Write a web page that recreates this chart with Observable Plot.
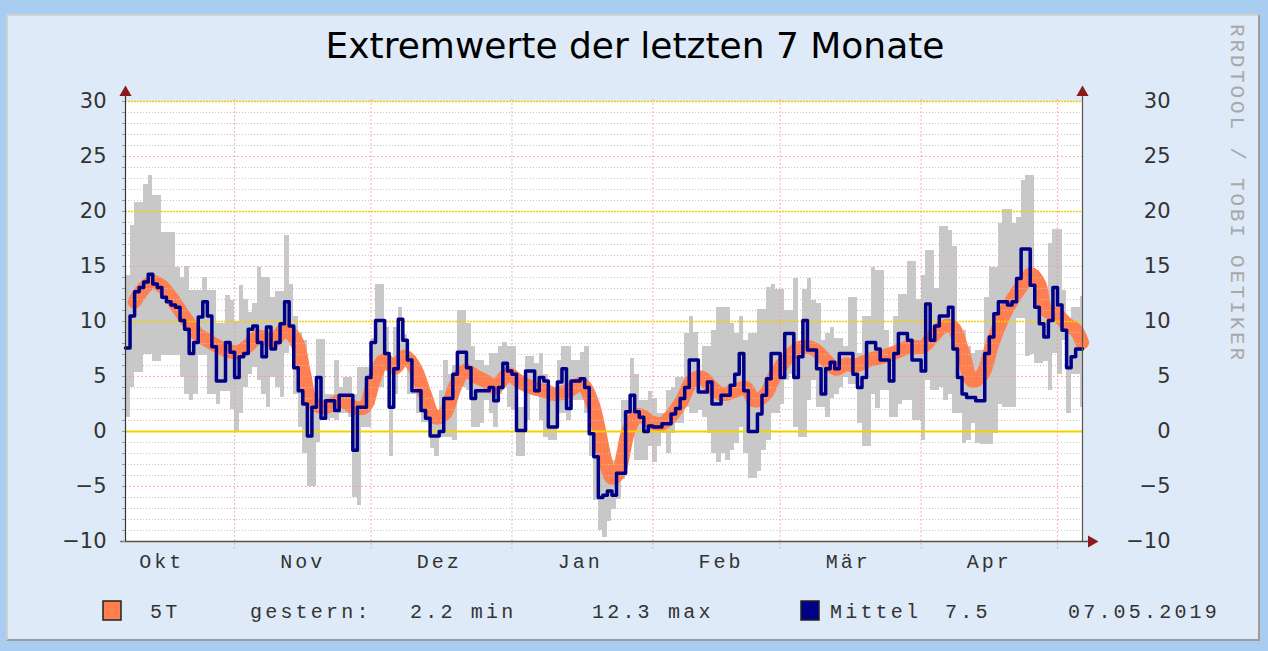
<!DOCTYPE html>
<html><head><meta charset="utf-8">
<script src="https://cdn.jsdelivr.net/npm/d3@7"></script>
<script src="https://cdn.jsdelivr.net/npm/@observablehq/plot@0.6"></script>
<style>
body{margin:0;background:#a9cdf1;}
#wrap{position:relative;width:1268px;height:651px;overflow:hidden;background:#a9cdf1;}
#panel{position:absolute;left:6px;top:14px;width:1254px;height:627px;background:#deeaf7;box-sizing:border-box;border-left:2px solid #d0d0d0;border-top:2px solid #d0d0d0;border-right:2px solid #9c9c9c;border-bottom:2px solid #9c9c9c;}
#chart{position:absolute;left:0;top:0;}
</style></head>
<body><div id="wrap"><div id="panel"></div><div id="chart"></div></div>
<script>
// ---- data (daily values from 2018-10-08) ----
const startDay = "2018-10-08";
const gMin = [1.3,4,5.4,5.4,7,7,6.4,6.4,6.9,6.9,6.9,6.9,4.9,3.4,2.8,3.4,6.9,6.9,3.4,3.4,2.5,3.6,3.6,2,0,1.6,
  4,5.2,5.8,4.6,3.4,2.2,4.9,4,3.1,7.1,7.7,3.4,0.4,-2,-5,-5,-1,1,1,1.2,1,1.6,1.6,1.3,-6,-6.7,
  0.4,0.4,2.4,4,4,5.8,-2.3,3.4,7.1,5.8,3.4,3.4,1.6,0.8,0.8,-1.5,-2.3,-0.5,-0.5,-0.5,-0.8,4,4,3.7,0.4,0.4,0.7,
  2.8,1.6,0.4,3.4,4,2.2,1.9,-2.3,-2.3,1,3.4,3.4,1,-0.5,-0.8,-0.8,1.6,1.6,1,2.8,2.8,2.8,1.6,-2.3,-6.3,-9,
  -9.6,-8.2,-7.1,-6.2,-4.4,-1.7,-0.2,-2.6,-2.6,-2.6,-1.4,-2.8,-1.4,-0.2,-2,-0.2,0.7,0.7,2.2,1.6,1.6,1.9,1.3,-0.2,-2,-2.8,-2,
  -2.6,-1.7,-1.1,0.4,-2,-4.3,-4.3,-3.6,-1.7,-0.8,1.6,1.6,2.5,4.6,5.2,0.4,-0.5,-0.5,2.8,4.6,2.2,2.2,1.3,3,3.4,4,
  4.9,4.3,4.3,0.7,-1.4,-1.4,3.4,2.1,3.7,3.7,1.3,1.3,2.5,2.8,2.8,1,1,-0.8,4.6,3.7,3.7,4,2.8,3.4,1.6,1.6,-1.1,
  -0.8,0.7,-1.1,-1.2,-1.2,-1.2,-0.2,2.5,2.2,2.2,2.2,10.3,10.3,6.8,7,6.2,6.2,6.4,3.7,7.1,5.2,8.3,1.6,5.2,5.2,2.2];
const gMax = [14.2,18.7,20.8,20.8,22.5,23.3,21.5,21.5,18.1,18.1,18.1,14.9,14,15,12.8,12.8,12.8,14,12.8,12.8,9.8,9.8,12.4,11.9,10,13.3,
  12,10.8,11.6,14.9,14,14,12.2,12.7,12.7,17.8,13.4,10.5,9,8.3,4.6,3,8.4,8.4,3.4,3.4,6.5,4,4.9,4.9,3.4,5.8,
  5.8,5.8,8.5,13.4,13.4,9.5,6.5,9.5,11.3,8.8,7,4.6,4.2,3.7,3.7,1.6,1.6,3.7,6.5,5.2,6,11,11,9.8,7.7,6.5,6.5,
  6,7.1,7.1,7.7,8.1,7.7,7.7,2.2,2.2,6.8,6.8,6.2,7.1,5.2,3.7,3.7,6.5,7.7,7.7,6.5,6.5,7.2,7.7,2.8,0.4,-1.1,
  -1.1,-2.6,-2.6,-2,2.8,2.8,6.6,5.2,2.8,2.8,3.6,3,1.6,1.6,3.7,4,4.9,4.9,8.9,10.5,9,5.5,7.7,7.7,9.2,11.3,11.3,
  11.3,9.8,8.9,10.5,8.3,8.9,8.9,11.1,11.1,13.1,13.4,12.9,12.9,11,11,13.9,7.5,12.9,13.9,11.9,11.6,8.3,8.9,9.5,8.5,8.5,
  7.7,12.2,12.2,7.1,10.5,10.5,14.9,14.6,14.6,9.2,7.1,10.5,12.5,12.5,15.5,15.5,12,14.2,16.5,16.5,13,18.6,18.6,18.3,16.8,9.2,9.2,
  7.7,7.1,7.4,7.4,12.2,14.9,14.9,18.9,20.2,20.2,18.9,19.5,22.8,23.3,23.3,14.6,12.5,12.5,17.1,18.4,18.4,12.8,10.1,11.3,11.3,12.3];
const mittel = [7.6,10.5,12.7,13.1,13.6,14.3,13.4,13.1,12.2,11.8,11.5,11.3,10.1,9.3,7.1,8.1,10.4,11.8,10.5,7.7,4.6,4.6,8.1,7.2,4.9,6.8,
  7.1,9.3,9.6,8.1,6.8,9.5,7.5,8.1,9.8,11.8,9.6,5.8,3.7,2.5,-0.4,2.2,4.9,1.2,2.8,2.8,1.9,3.3,3.3,3.3,-1.7,2.2,
  2.2,4.9,8.1,10.1,10.1,7.1,2.2,5.7,10.2,8.3,6.5,3.7,3.7,1.9,1.2,-0.4,-0.4,0,3,3,5.2,7.2,7.2,5.8,3.0,3.7,3.7,
  3.7,4.0,2.8,4.0,6.2,5.5,5.2,0.1,0.1,5.5,5.5,3.7,4.9,4.6,0.4,0.4,4.5,5.7,2.1,4.6,4.6,4.8,4.0,-0.2,-2.3,-6,
  -5.8,-5.4,-5.8,-3.8,-3.8,1.8,3.3,1.8,1.3,0,0.5,0.4,0.4,0.7,0.7,1.6,2.1,3,4,6.5,6.5,3.6,3.6,4.5,2.5,2.5,3.3,
  3.3,4.2,5.2,7.1,3.7,0,0,1.6,3.3,4.8,7.1,7.1,4.9,8.9,8.9,4.9,6.8,10.1,7.4,7.4,5.7,3.4,5.7,6.3,5.7,7.1,
  7.1,7.1,5.2,4,4.9,8.1,8.1,7.5,6.5,6.5,4.6,7.1,8.9,8.9,8.3,6.5,6.5,5.5,11.6,8.3,9.6,10.5,10.5,11.3,7.5,4.9,3.4,
  3.1,3.1,2.8,2.8,7.1,8.6,10.7,11.8,11.8,11.5,11.8,13.9,16.6,16.6,13.3,11.3,9.8,8.6,10.1,13.1,11.5,9.2,5.8,6.8,7.5,7.5];
// smoothed band (day offset, value)
const trendDay = [2,4,6,8,10,12,14,16,18,20,22,24.5,27,29,32.7,34.9,37.5,39.3,40.8,43.7,47.4,50.3,52.5,54.8,56.9,59.2,61.4,63.6,65.8,68,70.2,72.4,74.6,77.5,79.5,81.2,84.2,86.4,89.3,92.2,94.4,97.4,100.3,102.5,104,105.5,107,108.4,109.5,110.6,112.8,115.8,118,120.2,122.4,124.6,126.8,129,131.2,134.1,136.3,138.5,140.8,143,145.2,147.4,149.6,151.8,154,156.2,158.4,160.6,163.5,166.5,169.4,172.4,175.3,177.5,179.7,181.9,184.1,186.3,188.5,190.7,193,195.1,197.4,199.2,201,202.5,204.7,206.9,209.1,210.4];
const trendVal = [11.8,13,13.6,13.2,12.2,11,9.8,8.8,8.3,7.8,7.4,7.2,7.8,8.6,8.3,9.2,8.3,5.2,2.8,2.2,2.8,2.2,2.2,4.9,6.5,5.8,6.8,5.8,3.4,1.3,1.6,4,5.5,4.9,4.5,4.0,5.2,4.6,4.0,3.7,3.4,3.7,4.3,2.8,0.4,-2.6,-4.2,-3.8,-2,0,1.5,0.8,0.7,1.5,2.8,4.6,4.9,4.0,3.4,3.7,4.0,2.8,3.4,5.2,6.5,7.4,7.7,7.4,6.5,5.7,6.1,6.0,6.5,6.8,7.2,7.7,7.7,8.6,9.5,9.5,7.3,4.6,5.2,8,10.4,12,13.4,14.3,13.4,11,10.7,9.8,9.2,8.1];
const yTicks = [-10,-5,0,5,10,15,20,25,30];
const monthLabels = ["Okt","Nov","Dez","Jan","Feb","Mär","Apr"];
const monthLabelDates = ["2018-10-16","2018-11-16","2018-12-16","2019-01-16","2019-02-16","2019-03-16","2019-04-16"];
const monthStarts = ["2018-11-01","2018-12-01","2019-01-01","2019-02-01","2019-03-01","2019-04-01","2019-05-01"];
const legendTexts = ["5T","gestern:","2.2 min","12.3 max","Mittel","7.5","07.05.2019"];

// ---- build ----
const DAY = 864e5;
const t0 = new Date(startDay + "T00:00:00Z").getTime();
const dayDate = d => new Date(t0 + d * DAY);
const tEnd = dayDate(210.5);
const days = mittel.map((m, i) => ({x1: dayDate(i), x2: dayDate(Math.min(i + 1, 210.5)), lo: gMin[i], hi: gMax[i], m}));
const meanPts = days.map(d => ({x: d.x1, y: d.m})).concat([{x: tEnd, y: mittel[mittel.length - 1]}]);
const trend = trendDay.map((d, i) => ({x: dayDate(d), y: trendVal[i]}));
const toDate = s => new Date(s + "T00:00:00Z");
const minor = d3.range(-9, 30).filter(v => v % 5 !== 0);
const t0d = dayDate(0);

const plot = Plot.plot({
  width: 1268, height: 651,
  marginLeft: 125, marginRight: 186, marginTop: 101, marginBottom: 110,
  x: {type: "utc", domain: [t0d, tEnd], axis: null},
  y: {domain: [-10, 30]},
  style: {background: "transparent", overflow: "visible"},
  marks: [
    Plot.frame({fill: "white", stroke: null}),
    Plot.rect(days, {x1: "x1", x2: "x2", y1: "lo", y2: "hi", fill: "#c8c8c8", shapeRendering: "crispEdges"}),
    Plot.line(trend, {x: "x", y: "y", curve: "catmull-rom", stroke: "#ff7f50", strokeWidth: 14}),
    Plot.ruleY(minor, {stroke: "#c6c6c6", strokeDasharray: "1,2"}),
    Plot.ruleY([-5, 5, 15, 25], {stroke: "#f29a9a", strokeDasharray: "1.5,2.5"}),
    Plot.ruleX(monthStarts.map(toDate), {y1: -10.7, y2: 30.35, stroke: "#f29a9a", strokeDasharray: "1.5,2.5"}),
    Plot.ruleY([10, 20, 30], {stroke: "#f2cf00", strokeDasharray: "2,1", strokeWidth: 1.5}),
    Plot.ruleY([0], {stroke: "#f2d200", strokeWidth: 2}),
    Plot.line(meanPts, {x: "x", y: "y", curve: "step-after", stroke: "#000088", strokeWidth: 3.5}),
    Plot.ruleX([t0d], {y1: -10, y2: 30.8, stroke: "#333", strokeWidth: 1.2}),
    Plot.ruleX([tEnd], {y1: -10, y2: 30.8, stroke: "#555", strokeWidth: 1.2}),
    Plot.ruleY([-10], {x1: dayDate(-1), x2: dayDate(212.3), stroke: "#5a5040", strokeWidth: 1.5}),
    Plot.dot([{x: t0d, y: 30}], {x: "x", y: "y", symbol: "triangle", r: 4.5, fill: "#8b1a1a", stroke: null, dy: -9}),
    Plot.dot([{x: tEnd, y: 30}], {x: "x", y: "y", symbol: "triangle", r: 4.5, fill: "#8b1a1a", stroke: null, dy: -9}),
    Plot.dot([{x: tEnd, y: -10}], {x: "x", y: "y", symbol: "triangle", r: 4.5, fill: "#8b1a1a", stroke: null, dx: 9, rotate: 90}),
    Plot.axisY({anchor: "left", ticks: d3.range(-10, 31), tickSize: 3, tickFormat: () => "", stroke: "#999"}),
    Plot.axisY({anchor: "left", ticks: yTicks, tickSize: 0, tickPadding: 19, fontSize: 21, fontFamily: "DejaVu Sans", fill: "#333"}),
    Plot.axisY({anchor: "right", ticks: yTicks, tickSize: 0, tickPadding: 0, dx: 88, textAnchor: "end", fontSize: 21, fontFamily: "DejaVu Sans", fill: "#333"}),
    Plot.text(monthLabelDates.map(toDate), {x: d => d, text: (d, i) => monthLabels[i], frameAnchor: "bottom", dy: 26, fontSize: 20, fontFamily: "Liberation Mono", fill: "#333"})
  ]
});
document.getElementById("chart").appendChild(plot);

const svg = d3.select(plot);
svg.selectAll('g[aria-label="text"]').style("letter-spacing", "3px");
// title
svg.append("text").attr("x", 635).attr("y", 58).attr("text-anchor", "middle")
  .style("font", "36px 'DejaVu Sans'").attr("fill", "#000").text("Extremwerte der letzten 7 Monate");
// side watermark
svg.append("text").attr("transform", "translate(1231,24) rotate(90)").attr("text-anchor", "start")
  .style("font", "21px 'Liberation Mono'").style("letter-spacing", "2.8px").attr("fill", "#a8a8a8")
  .text("RRDTOOL / TOBI OETIKER");
// legend
const lg = svg.append("g").attr("text-anchor", "start").style("font", "20px 'Liberation Mono'").style("letter-spacing", "3.2px").attr("fill", "#333");
lg.append("rect").attr("x", 103).attr("y", 601).attr("width", 18).attr("height", 19).attr("fill", "#ff7f50").attr("stroke", "#222").attr("stroke-width", 1.5);
lg.append("rect").attr("x", 801).attr("y", 601).attr("width", 18).attr("height", 19).attr("fill", "#000088").attr("stroke", "#222").attr("stroke-width", 1.5);
const lx = [150, 250, 410, 592, 830, 945, 1068];
legendTexts.forEach((t, i) => lg.append("text").attr("x", lx[i]).attr("y", 618).text(t));
</script>
</body></html>
